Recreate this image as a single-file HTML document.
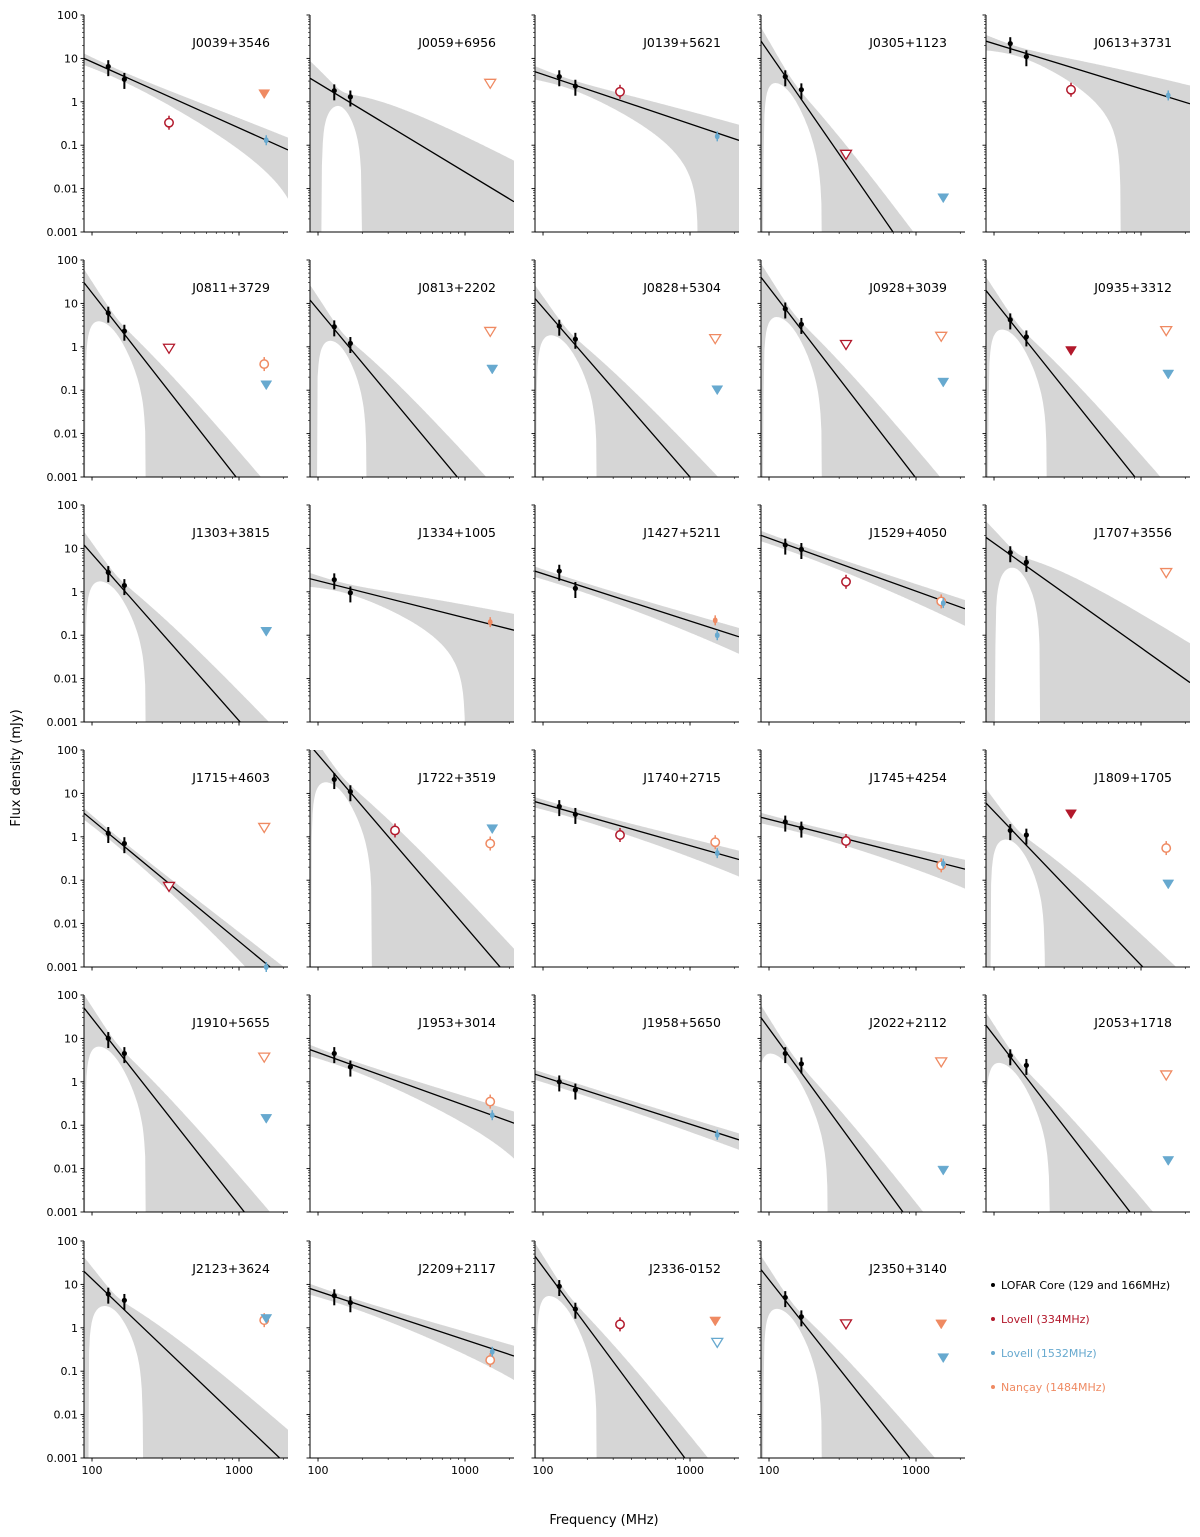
<!DOCTYPE html>
<html><head><meta charset="utf-8">
<style>
body{margin:0;background:#fff;}
svg{display:block;font-family:"DejaVu Sans","Liberation Sans",sans-serif;}
</style></head>
<body>
<svg id="fig" width="1200" height="1537" viewBox="0 0 1200 1537" xmlns="http://www.w3.org/2000/svg">
<text x="0" y="0" font-size="13" text-anchor="middle" transform="translate(20,768) rotate(-90)">Flux density (mJy)</text>
<text x="604" y="1524" font-size="13" text-anchor="middle">Frequency (MHz)</text>
<g font-size="11">
<circle cx="993" cy="1285" r="2" fill="#000"/><text x="1001" y="1289" fill="#000">LOFAR Core (129 and 166MHz)</text>
<circle cx="993" cy="1319" r="2" fill="#b2182b"/><text x="1001" y="1323" fill="#b2182b">Lovell (334MHz)</text>
<circle cx="993" cy="1353" r="2" fill="#67a9cf"/><text x="1001" y="1357" fill="#67a9cf">Lovell (1532MHz)</text>
<circle cx="993" cy="1387" r="2" fill="#ef8a62"/><text x="1001" y="1391" fill="#ef8a62">Nançay (1484MHz)</text>
</g>
</svg>
<script>
const names=["J0039+3546","J0059+6956","J0139+5621","J0305+1123","J0613+3731",
"J0811+3729","J0813+2202","J0828+5304","J0928+3039","J0935+3312",
"J1303+3815","J1334+1005","J1427+5211","J1529+4050","J1707+3556",
"J1715+4603","J1722+3519","J1740+2715","J1745+4254","J1809+1705",
"J1910+5655","J1953+3014","J1958+5650","J2022+2112","J2053+1718",
"J2123+3624","J2209+2117","J2336-0152","J2350+3140"];
const s145=[4.7,1.26,2.8,2.2,14.9, 3.5,1.58,1.86,4.5,2.4, 1.78,1.31,1.74,10.9,5.4, 0.87,18,4.0,1.83,1.03, 5.9,3.0,0.87,3.0,2.26, 4.0,4.6,4.6,2.6];
const alpha=[-1.52,-2.05,-1.14,-4.9,-1.04, -4.33,-4.07,-3.9,-4.39,-4.24, -3.84,-0.855,-1.09,-1.22,-2.41, -2.8,-3.95,-0.96,-0.86,-3.54, -4.31,-1.22,-1.09,-4.64,-4.39, -3.23,-1.12,-4.56,-4.29];
const dAlpha=[0.33,2.9,0.47,2.0,0.6, 1.93,2.35,1.93,2.0,2.0, 1.93,0.5,0.2,0.2,2.6, 0.3,1.93,0.2,0.22,2.15, 1.93,0.3,0.12,1.66,1.82, 2.15,0.25,1.93,2.0];
const relAmpErr=[0.25,0.4,0.25,0.4,0.25, 0.4,0.4,0.4,0.4,0.4, 0.4,0.25,0.25,0.25,0.4, 0.25,0.4,0.25,0.25,0.4, 0.4,0.25,0.25,0.4,0.4, 0.4,0.25,0.4,0.4];
const lofar129=[6.5,1.8,3.8,3.8,22, 6,2.9,3,7.5,4.2, 2.8,1.9,3,12,8, 1.2,21,5,2.2,1.4, 10,4.5,1.0,4.5,4, 6,5.5,9,5];
const lofar166=[3.3,1.3,2.3,1.9,11, 2.3,1.2,1.5,3.3,1.7, 1.4,0.95,1.2,9.5,4.8, 0.7,11,3.3,1.6,1.1, 4.5,2.2,0.65,2.6,2.4, 4.3,3.8,2.7,1.8];
// types: c=open circle detection, d=small dot detection, tf=filled upper limit, to=open upper limit
const l334Val=[0.33,null,1.7,0.06,1.9, 0.9,null,null,1.1,0.8, null,null,null,1.7,null, 0.07,1.4,1.1,0.8,3.3, null,null,null,null,null, null,null,1.2,1.2];
const l334Type=["c",null,"c","to","c", "to",null,null,"to","tf", null,null,null,"c",null, "to","c","c","c","tf", null,null,null,null,null, null,null,"c","to"];
const nanVal=[1.5,2.6,null,null,null, 0.4,2.2,1.5,1.7,2.3, null,0.2,0.22,0.6,2.7, 1.6,0.7,0.75,0.22,0.55, 3.6,0.35,null,2.8,1.4, 1.5,0.18,1.4,1.2];
const nanType=["tf","to",null,null,null, "c","to","to","to","to", null,"d","d","c","to", "to","c","c","c","c", "to","c",null,"to","to", "c","c","tf","tf"];
const l1532Val=[0.13,null,0.16,0.006,1.4, 0.13,0.3,0.1,0.15,0.23, 0.12,null,0.1,0.55,null, 0.001,1.5,0.42,0.24,0.08, 0.14,0.17,0.06,0.009,0.015, 1.6,0.28,0.45,0.2];
const l1532Type=["d",null,"d","tf","d", "tf","tf","tf","tf","tf", "tf",null,"d","d",null, "d","tf","d","d","tf", "tf","d","d","tf","tf", "tf","d","to","tf"];
const yTicks=["100","10","1","0.1","0.01","0.001"];
const xTicks=["100","1000"];

const NS="http://www.w3.org/2000/svg";
const svg=document.getElementById('fig');
const colL=[84,310,535,761,986], rowT=[15,260,505,750,995,1241];
const PW=204, PH=217, FMIN=88.2, FMAX=2154;
const RED="#b2182b", BLUE="#67a9cf", ORANGE="#ef8a62";
function mk(tag,attrs,parent){const e=document.createElementNS(NS,tag);for(const k in attrs)e.setAttribute(k,attrs[k]);(parent||svg).appendChild(e);return e;}
names.forEach((nm,i)=>{
  const c=i%5, r=Math.floor(i/5), L=colL[c], T=rowT[r], B=T+PH, R=L+PW;
  const xs=f=>L+(Math.log10(f)-Math.log10(FMIN))/(Math.log10(FMAX)-Math.log10(FMIN))*PW;
  const ys=v=>T+(2-Math.log10(v))/5*PH;
  const g=mk('g',{});
  
  
  const cp=mk('clipPath',{id:'cp'+i},g);mk('rect',{x:L,y:T,width:PW,height:PH},cp);
  const N=240, up=[], lo=[];
  for(let k=0;k<=N;k++){
    const f=FMIN*Math.pow(FMAX/FMIN,k/N);
    const S=s145[i]*Math.pow(f/145,alpha[i]);
    const d=Math.sqrt(relAmpErr[i]**2+(Math.log(f/145)*dAlpha[i])**2);
    const u=S*(1+d), l=S*(1-d);
    up.push([xs(f),Math.min(Math.max(ys(u),T-50),B+50)]);
    lo.push([xs(f),l>0?Math.min(ys(l),B+50):B+50]);
  }
  const pts=up.concat(lo.reverse()).map(p=>p[0].toFixed(1)+','+p[1].toFixed(1)).join(' ');
  const band=mk('polygon',{points:pts,fill:'#d6d6d6','clip-path':'url(#cp'+i+')'},g);
  
  
  const y1=ys(s145[i]*Math.pow(FMIN/145,alpha[i])), y2=ys(s145[i]*Math.pow(FMAX/145,alpha[i]));
  const fit=mk('line',{x1:L,y1:y1,x2:R,y2:y2,stroke:'#000','stroke-width':1.3,'clip-path':'url(#cp'+i+')'},g);
  
  
  mk('line',{x1:L,y1:T,x2:L,y2:B,stroke:'#000','stroke-width':1},g);
  mk('line',{x1:L,y1:B,x2:R,y2:B,stroke:'#000','stroke-width':1},g);
  for(let dcd=0;dcd<=5;dcd++){
    const y=T+dcd*PH/5;
    mk('line',{x1:L-3.5,y1:y,x2:L,y2:y,stroke:'#000','stroke-width':0.9},g);
    if(dcd<5)for(let m=2;m<=9;m++){const yy=y+(1-Math.log10(m))*PH/5;mk('line',{x1:L-2,y1:yy,x2:L,y2:yy,stroke:'#000','stroke-width':0.6},g);}
    if(c===0){const t=mk('text',{x:L-6,y:y+4,'font-size':11,'text-anchor':'end'},g);t.textContent=yTicks[dcd];
      
      }
  }
  [100,1000].forEach((f,j)=>{const x=xs(f);mk('line',{x1:x,y1:B,x2:x,y2:B+3.5,stroke:'#000','stroke-width':0.9},g);
    if(r===5){const t=mk('text',{x:x,y:B+16,'font-size':11,'text-anchor':'middle'},g);t.textContent=xTicks[j];
      
      }});
  [200,300,400,500,600,700,800,900,2000].forEach(f=>{const x=xs(f);mk('line',{x1:x,y1:B,x2:x,y2:B+2,stroke:'#000','stroke-width':0.6},g);});
  const tt=mk('text',{x:L+186,y:T+32,'font-size':12.5,'text-anchor':'end'},g);tt.textContent=nm;
  
  
  function marker(f,v,type,col,nmk){
    if(v==null)return;
    const x=xs(f), y=Math.min(ys(v),B);
    const m=mk('g',{},g);
    
    
    if(type==='c'){mk('line',{x1:x,y1:y-7,x2:x,y2:y+7,stroke:col,'stroke-width':1.5},m);mk('circle',{cx:x,cy:y,r:4.2,fill:'#fff',stroke:col,'stroke-width':1.5},m);}
    else if(type==='d'){mk('line',{x1:x,y1:y-5,x2:x,y2:y+5,stroke:col,'stroke-width':1.5},m);mk('ellipse',{cx:x,cy:y,rx:2.4,ry:3,fill:col},m);}
    else{const filled=type==='tf';mk('polygon',{points:`${x-5.5},${y-4.5} ${x+5.5},${y-4.5} ${x},${y+4.5}`,fill:filled?col:'#fff',stroke:col,'stroke-width':filled?0.5:1.3},m);}
  }
  marker(334,l334Val[i],l334Type[i],RED,'lovell-334-point');
  marker(1484,nanVal[i],nanType[i],ORANGE,'nancay-1484-point');
  marker(1532,l1532Val[i],l1532Type[i],BLUE,'lovell-1532-point');
  [[129,lofar129[i]],[166,lofar166[i]]].forEach(([f,v])=>{
    const x=xs(f), m=mk('g',{},g);
    
    
    mk('line',{x1:x,y1:ys(v*1.4),x2:x,y2:ys(v*0.6),stroke:'#000','stroke-width':2},m);
    mk('circle',{cx:x,cy:ys(v),r:2.6,fill:'#000'},m);
  });
});
</script>
</body></html>
